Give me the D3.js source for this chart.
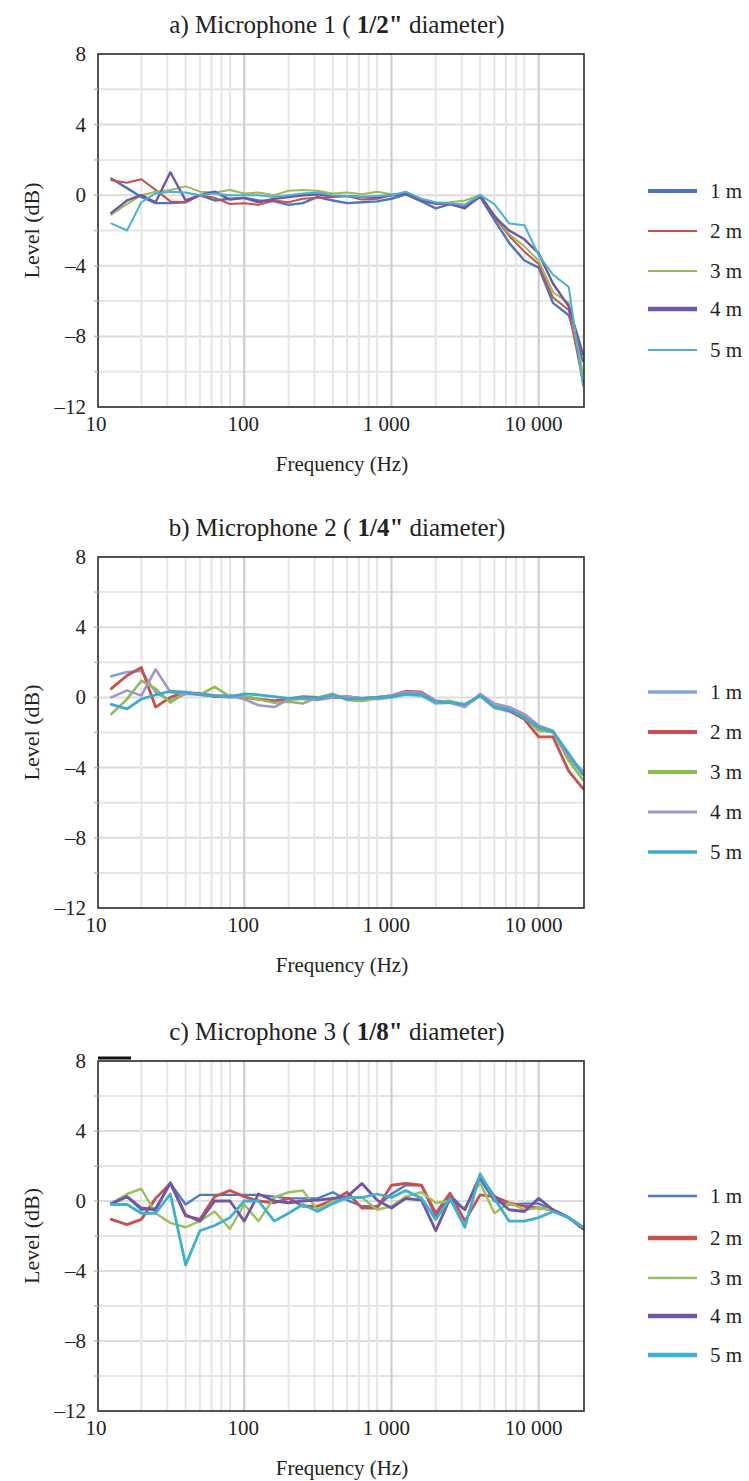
<!DOCTYPE html>
<html>
<head>
<meta charset="utf-8">
<script src="https://cdn.jsdelivr.net/npm/d3@7"></script>
<style>
  html, body { margin: 0; padding: 0; background: #fff; }
  svg { display: block; }
</style>
</head>
<body>
<svg id="chart" width="749" height="1481" font-family="'Liberation Serif', 'DejaVu Serif', serif"></svg>
<script>
// ---------- data ----------
const freqs = [12.5, 16, 20, 25, 31.5, 40, 50, 63, 80, 100, 125, 160, 200, 250, 315, 400, 500, 630, 800,
  1000, 1250, 1600, 2000, 2500, 3150, 4000, 5000, 6300, 8000, 10000, 12500, 16000, 20000];

const seriesNames = ["1 m", "2 m", "3 m", "4 m", "5 m"];
const yTickValues = [8, 4, 0, -4, -8, -12];
const yTickLabels = ["8", "4", "0", "\u20134", "\u20138", "\u201312"];
const xTickValues = [10, 100, 1000, 10000];
const xTickLabels = ["10", "100", "1 000", "10 000"];
const xAxisTitle = "Frequency (Hz)";
const yAxisTitle = "Level (dB)";

// a) Microphone 1 (1/2")
const micA_1m = [0.95, 0.4, -0.1, -0.45, -0.45, -0.4, 0.0, -0.3, -0.2, -0.15, -0.3, -0.35, -0.55, -0.45, -0.1, -0.3, -0.45, -0.4, -0.35, -0.2, 0.05, -0.35, -0.75, -0.5, -0.7, -0.1, -1.4, -2.7, -3.7, -4.1, -6.1, -6.8, -9.4];
const micA_2m = [0.85, 0.7, 0.9, 0.3, -0.35, -0.4, 0.0, -0.15, -0.5, -0.45, -0.55, -0.3, -0.4, -0.2, -0.15, -0.1, -0.05, -0.25, -0.2, 0.0, 0.1, -0.3, -0.5, -0.45, -0.55, -0.05, -1.2, -2.3, -3.2, -3.9, -5.8, -6.5, -10.6];
const micA_3m = [-1.1, -0.5, 0.0, 0.2, 0.3, 0.5, 0.2, 0.15, 0.3, 0.1, 0.15, 0.0, 0.25, 0.3, 0.25, 0.1, 0.15, 0.05, 0.2, 0.05, 0.1, -0.25, -0.45, -0.4, -0.3, 0.0, -1.1, -2.2, -2.9, -3.7, -5.5, -6.1, -10.1];
const micA_4m = [-1.0, -0.3, 0.0, -0.4, 1.3, -0.3, 0.0, 0.2, -0.25, -0.15, -0.4, -0.2, -0.1, 0.0, 0.05, -0.05, -0.05, -0.1, -0.1, 0.0, 0.1, -0.3, -0.45, -0.5, -0.75, 0.0, -1.2, -2.0, -2.5, -3.3, -5.0, -6.3, -9.0];
const micA_5m = [-1.6, -2.0, -0.4, 0.1, 0.2, 0.15, 0.0, 0.1, 0.0, 0.0, 0.0, -0.1, 0.0, 0.1, 0.15, 0.0, -0.05, -0.1, -0.05, 0.0, 0.2, -0.2, -0.4, -0.45, -0.55, 0.0, -0.5, -1.6, -1.7, -3.4, -4.5, -5.2, -10.8];

// b) Microphone 2 (1/4")
const micB_1m = [1.2, 1.45, 1.5, 0.3, -0.2, 0.2, 0.25, 0.1, 0.0, 0.05, -0.1, -0.2, -0.15, 0.0, -0.1, 0.0, -0.05, -0.05, -0.1, 0.0, 0.15, 0.1, -0.35, -0.3, -0.5, 0.1, -0.6, -0.8, -1.2, -1.8, -2.0, -3.4, -4.4];
const micB_2m = [0.5, 1.25, 1.7, -0.55, 0.0, 0.3, 0.2, 0.05, 0.1, 0.0, -0.1, -0.2, -0.1, 0.05, 0.0, 0.0, 0.05, -0.05, 0.0, 0.1, 0.35, 0.3, -0.2, -0.25, -0.45, 0.1, -0.45, -0.75, -1.25, -2.25, -2.25, -4.2, -5.2];
const micB_3m = [-0.95, -0.1, 0.95, 0.5, -0.3, 0.3, 0.15, 0.6, 0.05, 0.05, -0.1, -0.3, -0.25, -0.35, 0.0, 0.2, -0.15, -0.2, -0.05, 0.1, 0.25, 0.2, -0.25, -0.2, -0.4, 0.1, -0.4, -0.6, -1.1, -1.9, -1.95, -3.6, -4.7];
const micB_4m = [0.0, 0.4, 0.1, 1.6, 0.3, 0.2, 0.15, 0.1, 0.1, -0.1, -0.45, -0.55, -0.1, -0.1, -0.15, 0.0, 0.05, -0.05, 0.0, 0.1, 0.3, 0.25, -0.2, -0.3, -0.55, 0.2, -0.35, -0.55, -0.95, -1.6, -1.9, -3.4, -4.2];
const micB_5m = [-0.4, -0.65, -0.1, 0.15, 0.35, 0.3, 0.15, 0.1, 0.05, 0.2, 0.15, 0.05, -0.05, 0.0, -0.05, 0.15, -0.1, -0.05, 0.0, 0.05, 0.2, 0.15, -0.25, -0.3, -0.4, 0.1, -0.55, -0.7, -1.15, -1.7, -1.95, -3.2, -4.4];

// c) Microphone 3 (1/8")
const micC_1m = [-0.15, 0.25, -0.5, -0.4, 1.0, -0.2, 0.35, 0.35, 0.35, 0.35, 0.35, 0.25, 0.15, 0.15, 0.15, 0.5, 0.05, -0.3, -0.3, 0.4, 0.9, 0.9, -0.9, 0.35, -0.5, 1.25, 0.0, -0.2, -0.15, -0.15, -0.5, -0.95, -1.5];
const micC_2m = [-1.05, -1.35, -1.05, 0.15, 1.0, -0.85, -1.05, 0.25, 0.6, 0.25, 0.0, -0.1, 0.15, -0.3, -0.3, 0.05, 0.5, -0.4, -0.4, 0.9, 1.0, 0.9, -0.7, 0.45, -1.15, 0.35, 0.25, -0.1, -0.3, -0.4, -0.5, -0.95, -1.5];
const micC_3m = [-0.15, 0.4, 0.7, -0.7, -1.25, -1.5, -1.15, -0.6, -1.6, -0.2, -1.15, 0.2, 0.5, 0.6, -0.5, 0.0, 0.15, 0.2, -0.5, -0.3, 0.25, 0.5, -0.1, 0.0, -0.4, 1.05, -0.7, -0.1, -0.5, -0.4, -0.5, -0.95, -1.5];
const micC_4m = [-0.15, 0.25, -0.4, -0.5, 1.05, -0.8, -1.15, 0.0, 0.0, -1.15, 0.4, 0.0, -0.1, 0.0, 0.05, 0.15, 0.25, 1.0, 0.05, -0.4, 0.15, 0.05, -1.7, 0.15, -0.5, 1.45, 0.25, -0.5, -0.6, 0.15, -0.5, -0.95, -1.6];
const micC_5m = [-0.2, -0.2, -0.7, -0.7, 0.4, -3.65, -1.7, -1.4, -0.95, 0.0, 0.0, -1.15, -0.7, -0.2, -0.6, -0.15, 0.2, 0.2, 0.4, 0.2, 0.6, 0.15, -1.05, 0.15, -1.5, 1.55, 0.15, -1.15, -1.15, -0.95, -0.6, -0.95, -1.5];

const titleA = ["a) Microphone 1 ( ", "1/2\"", " diameter)"];
const titleB = ["b) Microphone 2 ( ", "1/4\"", " diameter)"];
const titleC = ["c) Microphone 3 ( ", "1/8\"", " diameter)"];

// ---------- styling / layout ----------
const FONT = "'Liberation Serif', 'DejaVu Serif', serif";
const svg = d3.select("#chart");
const left = 98, right = 584;
const xScale = d3.scaleLog().domain([10, 20000]).range([97, 583]);

const panels = [
  { title: titleA, top: 54, bottom: 407, data: [micA_1m, micA_2m, micA_3m, micA_4m, micA_5m],
    colors: ["#4a76bd", "#c9504c", "#9bbb59", "#7356a3", "#4bb3cf"],
    legendW: [4, 2, 2, 4.5, 2], lineW: [2.4, 2, 2, 2.4, 2],
    legendY: [191, 231, 271, 309, 350] },
  { title: titleB, top: 557, bottom: 908, data: [micB_1m, micB_2m, micB_3m, micB_4m, micB_5m],
    colors: ["#7fa6da", "#c9504c", "#8fbc4f", "#a693c9", "#3fabcc"],
    legendW: [3.5, 4, 4, 3, 3.5], lineW: [2.6, 2.8, 2.6, 2.6, 2.8],
    legendY: [692, 732, 772, 812, 852] },
  { title: titleC, top: 1061, bottom: 1411, data: [micC_1m, micC_2m, micC_3m, micC_4m, micC_5m],
    colors: ["#4a7cc6", "#c9504c", "#9bc25a", "#7356a3", "#3fb0cf"],
    legendW: [2.5, 4.5, 2.5, 4.5, 4.5], lineW: [2.4, 2.8, 2.4, 2.8, 2.8],
    legendY: [1196, 1238, 1278, 1316, 1355] }
];

const minorFreqs = [];
[10, 100, 1000, 10000].forEach(dec => {
  for (let m = 2; m <= 8; m++) { const f = dec * m; if (f < 20000) minorFreqs.push(f); }
});

function txt(sel) {
  return sel.attr("font-family", FONT).attr("fill", "#222");
}

panels.forEach((p, pi) => {
  const g = svg.append("g");
  const y = d3.scaleLinear().domain([-12, 8]).range([p.bottom, p.top]);

  // title
  const t = txt(g.append("text")).attr("x", 337).attr("y", p.top - 21)
    .attr("text-anchor", "middle").attr("font-size", 25);
  t.append("tspan").text(p.title[0]);
  t.append("tspan").attr("font-weight", "bold").text(p.title[1]);
  t.append("tspan").text(p.title[2]);

  // grid: horizontal every 2 dB
  d3.range(-10, 8, 2).forEach(v => {
    g.append("line").attr("x1", left).attr("x2", right).attr("y1", y(v)).attr("y2", y(v))
      .attr("stroke", v % 4 === 0 ? "#dcdcdc" : "#e6e6e6").attr("stroke-width", 2);
  });
  // grid: vertical minor
  minorFreqs.forEach(f => {
    g.append("line").attr("x1", xScale(f)).attr("x2", xScale(f)).attr("y1", p.top).attr("y2", p.bottom)
      .attr("stroke", "#e6e6e6").attr("stroke-width", 2);
  });
  // grid: decades
  [100, 1000, 10000].forEach(f => {
    g.append("line").attr("x1", xScale(f)).attr("x2", xScale(f)).attr("y1", p.top).attr("y2", p.bottom)
      .attr("stroke", "#cfcfcf").attr("stroke-width", 2.2);
  });

  // series
  const line = d3.line().x((d, i) => xScale(freqs[i])).y(d => y(d));
  p.data.forEach((vals, si) => {
    g.append("path").datum(vals).attr("d", line).attr("fill", "none")
      .attr("stroke", p.colors[si]).attr("stroke-width", p.lineW[si])
      .attr("stroke-linejoin", "round").attr("stroke-linecap", "round");
  });

  // frame
  g.append("rect").attr("x", left).attr("y", p.top).attr("width", right - left).attr("height", p.bottom - p.top)
    .attr("fill", "none").attr("stroke", "#2a2a2a").attr("stroke-width", 1.6);

  // y axis minor tick marks
  d3.range(-10, 8, 2).forEach(v => {
    g.append("line").attr("x1", left - 4).attr("x2", left).attr("y1", y(v)).attr("y2", y(v))
      .attr("stroke", "#bbbbbb").attr("stroke-width", 1.5);
  });
  // y tick labels
  yTickValues.forEach((v, i) => {
    txt(g.append("text")).attr("x", 86).attr("y", y(v) + 7).attr("text-anchor", "end")
      .attr("font-size", 21).text(yTickLabels[i]);
  });
  // x tick labels
  xTickValues.forEach((v, i) => {
    txt(g.append("text")).attr("x", xScale(v) - (i >= 2 ? 5 : 1)).attr("y", p.bottom + 24).attr("text-anchor", "middle")
      .attr("font-size", 21).text(xTickLabels[i]);
  });
  // axis titles
  txt(g.append("text")).attr("x", 342).attr("y", p.bottom + 64).attr("text-anchor", "middle")
    .attr("font-size", 21).text(xAxisTitle);
  const cy = (p.top + p.bottom) / 2;
  txt(g.append("text")).attr("transform", `translate(39,${cy}) rotate(-90)`).attr("text-anchor", "middle")
    .attr("font-size", 22).text(yAxisTitle);

  // legend
  seriesNames.forEach((name, si) => {
    const ly = p.legendY[si];
    g.append("line").attr("x1", 648).attr("x2", 697).attr("y1", ly).attr("y2", ly)
      .attr("stroke", p.colors[si]).attr("stroke-width", p.legendW[si]);
    txt(g.append("text")).attr("x", 710).attr("y", ly + 7).attr("font-size", 21).text(name);
  });

  if (pi === 2) {
    g.append("line").attr("x1", 98).attr("x2", 131).attr("y1", p.top - 3).attr("y2", p.top - 3)
      .attr("stroke", "#111").attr("stroke-width", 3);
  }
});
</script>
</body>
</html>
